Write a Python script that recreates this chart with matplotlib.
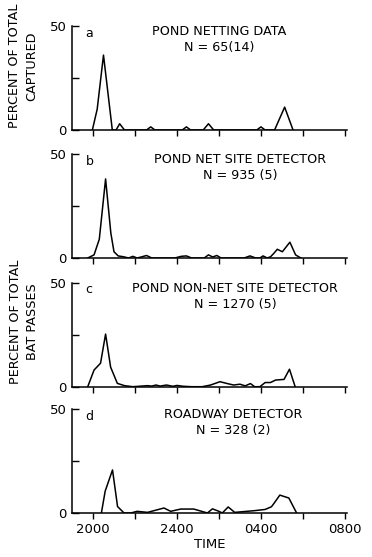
import matplotlib
matplotlib.use("Agg")
import matplotlib.pyplot as plt

plt.rcParams['font.family'] = ['DejaVu Sans']

# time in hours after midnight of the first day (2000 = 20, 0400 = 28)
t_a = [19.97, 20.2, 20.5, 20.92, 21.1, 21.27, 21.5, 22.55, 22.75, 22.95, 24.25, 24.45, 24.65,
       25.25, 25.5, 25.75, 27.8, 28.0, 28.2, 28.65, 29.13, 29.53]
v_a = [0, 10, 36, 0, 0, 3, 0, 0, 1.5, 0, 0, 1.5, 0,
       0, 3, 0, 0, 1.5, 0, 0, 11, 0]

t_b = [19.75, 20.05, 20.3, 20.6, 20.85, 21.0, 21.2, 21.45, 21.7, 21.9, 22.1, 22.3, 22.55, 22.8,
       23.9, 24.2, 24.45, 24.7, 25.3, 25.5, 25.7, 25.9, 26.1, 27.2, 27.48, 27.75, 27.95, 28.1,
       28.3, 28.46, 28.62, 28.78, 29.02, 29.38, 29.65, 29.9]
v_b = [0, 1.5, 9, 38, 12, 3, 1, 0.6, 0, 0.8, 0, 0.5, 1.2, 0,
       0, 0.8, 1, 0, 0, 1.5, 0.5, 1.2, 0, 0, 1, 0, 0, 1,
       0, 0.6, 2.3, 4.2, 3.0, 7.6, 1.5, 0]

t_c = [19.75, 20.05, 20.36, 20.6, 20.84, 21.16, 21.5, 21.9, 22.6, 22.8, 23.0, 23.2, 23.5, 23.8,
       24.0, 24.3, 24.7, 25.2, 25.6, 26.05, 26.4, 26.7, 27.0, 27.25, 27.5, 27.7, 27.95, 28.2,
       28.45, 28.7, 29.1, 29.36, 29.63]
v_c = [0, 8, 11.3, 25.3, 9.4, 1.6, 0.5, 0, 0.5, 0.3, 0.8, 0.3, 0.8, 0.2,
       0.6, 0.2, 0, 0, 0.8, 2.4, 1.5, 0.8, 1.2, 0.4, 1.5, 0, 0, 2,
       2, 3.2, 3.5, 8.4, 0]

t_d = [20.4, 20.58, 20.93, 21.17, 21.48, 21.8, 22.1, 22.6, 23.38, 23.7, 24.18, 24.8, 25.45,
       25.69, 26.0, 26.16, 26.44, 26.75, 27.67, 28.2, 28.5, 28.62, 28.9, 29.33, 29.7]
v_d = [0, 10.5, 20.7, 3.1, 0, 0, 0.8, 0.3, 2.4, 0.8, 1.9, 1.9, 0,
       2, 0.8, 0, 2.9, 0.3, 1.1, 1.7, 3.0, 4.6, 8.6, 7.2, 0]

series = [(t_a, v_a), (t_b, v_b), (t_c, v_c), (t_d, v_d)]
letters = ["a", "b", "c", "d"]
titles = ["POND NETTING DATA\nN = 65(14)",
          "POND NET SITE DETECTOR\nN = 935 (5)",
          "POND NON-NET SITE DETECTOR\nN = 1270 (5)",
          "ROADWAY DETECTOR\nN = 328 (2)"]
title_x = [219, 240, 235, 233]
x_ticks = [20, 22, 24, 26, 28, 30, 32]
x_labels = ["2000", "", "2400", "", "0400", "", "0800"]

W, H = 372, 557
fig = plt.figure(figsize=(W / 100, H / 100), dpi=100)

bottoms_px = [130, 258, 386.7, 513]
for i, (t, v) in enumerate(series):
    ax = fig.add_axes([72 / W, 1 - bottoms_px[i] / H, 275 / W, 104 / H])
    ax.plot(t, v, color="black", lw=1.1)
    ax.set_xlim(19.0, 32.1)
    ax.set_ylim(0, 50)
    for s in ["top", "right"]:
        ax.spines[s].set_visible(False)
    for s in ["left", "bottom"]:
        ax.spines[s].set_linewidth(1.1)
    ax.set_yticks([0, 25, 50])
    ax.set_yticklabels(["0", "", "50"])
    ax.set_xticks(x_ticks)
    ax.tick_params(axis="y", direction="in", length=5, width=1.0, labelsize=9.5, pad=4)
    ax.tick_params(axis="x", direction="out", length=4, width=1.0, labelsize=9.5, pad=3)
    if i == 3:
        ax.set_xticklabels(x_labels)
        ax.set_xlabel("TIME", fontsize=9.5, labelpad=2)
    else:
        ax.set_xticklabels([])
    ax.text(0.05, 0.93, letters[i], transform=ax.transAxes, fontsize=9, ha="left", va="center")
    ax.text((title_x[i] - 72) / 275, 0.87, titles[i], transform=ax.transAxes, fontsize=9.2,
            ha="center", va="center", linespacing=1.3)

fig.text(23 / W, 1 - 66 / H, "PERCENT OF TOTAL\nCAPTURED", rotation=90, fontsize=9.2,
         ha="center", va="center", linespacing=1.45)
fig.text(24 / W, 1 - 322 / H, "PERCENT OF TOTAL\nBAT PASSES", rotation=90, fontsize=9.2,
         ha="center", va="center", linespacing=1.45)

fig.savefig("out.png", dpi=100)
